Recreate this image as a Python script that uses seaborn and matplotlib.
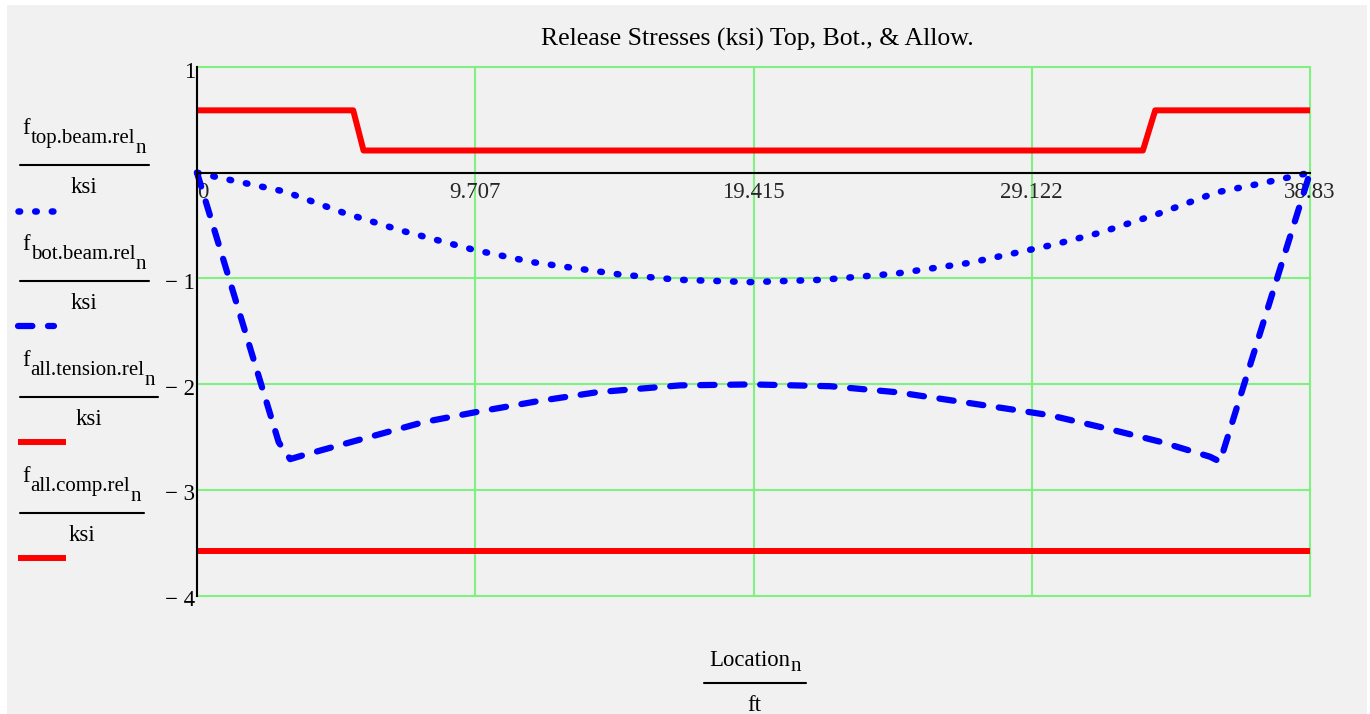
import numpy as np
import matplotlib
import matplotlib.pyplot as plt
from matplotlib.lines import Line2D
from matplotlib.patches import Rectangle
import seaborn as sns

# values (ft, ksi)
loc_top = [0, 1.04, 3.07, 5.10, 7.15, 9.66, 11.72, 14.75, 16.8, 19.33,
           21.83, 24.4, 26.95, 28.93, 29.88, 31.5, 33.53, 35.57, 37.08, 38.83]
f_top = [0, -0.062, -0.179, -0.378, -0.549, -0.730, -0.847, -0.963, -1.013, -1.035,
         -1.013, -0.954, -0.853, -0.737, -0.681, -0.568, -0.389, -0.186, -0.104, 0]

loc_bot = [0, 2.85, 3.25, 3.72, 5.35, 7.9, 9.71, 11.86, 13.95, 16.86, 19.36,
           22.09, 24.42, 26.74, 28.83, 29.76, 31.74, 33.6, 35.34, 35.69, 38.83]
f_bot = [0, -2.55, -2.71, -2.672, -2.55, -2.36, -2.266, -2.163, -2.077, -2.012, -2.003,
         -2.02, -2.077, -2.171, -2.256, -2.295, -2.42, -2.545, -2.687, -2.734, 0]

loc_ten = [0, 5.45, 5.81, 33.0, 33.43, 38.83]
f_ten = [0.59, 0.59, 0.21, 0.21, 0.59, 0.59]

loc_comp = [0, 38.83]
f_comp = [-3.575, -3.575]

xticks = [0, 9.707, 19.415, 29.122, 38.83]
xtick_labels = ['0', '9.707', '19.415', '29.122', '38.83']
yticks = [-4, -3, -2, -1, 0, 1]
ytick_labels = {1: '1', -1: '\u2212 1', -2: '\u2212 2', -3: '\u2212 3', -4: '\u2212 4'}

legend_names = ['top.beam.rel', 'bot.beam.rel', 'all.tension.rel', 'all.comp.rel']

W, H = 1370, 714
BG = '#f1f1f1'
GRID = '#80f080'

sns.set_theme(style='white')
plt.rcParams['font.family'] = ['Liberation Serif', 'DejaVu Serif']
plt.rcParams['text.color'] = 'black'


def px(x):
    return x / W


def py(y):
    return 1 - y / H


fig = plt.figure(figsize=(W / 100, H / 100), dpi=100, facecolor='white')
fig.add_artist(Rectangle((px(7), 0), px(1367) - px(7), py(5), transform=fig.transFigure,
                         facecolor=BG, edgecolor='none', zorder=-10))

ax = fig.add_axes([px(197), py(595.5), px(1310) - px(197), py(67) - py(595.5)])
ax.set_facecolor(BG)

dotted = dict(color='#0000ff', lw=4.7, linestyle=(0, (0.25, 2.3)), dash_capstyle='round')
dashed = dict(color='#0000ff', lw=4.5, linestyle=(0, (2.3, 2.5)), dash_capstyle='round')
solid = dict(color='#ff0000', lw=4.3, linestyle='-', solid_capstyle='butt')

sns.lineplot(x=loc_ten, y=f_ten, ax=ax, estimator=None, sort=False, clip_on=False, **solid)
sns.lineplot(x=loc_top, y=f_top, ax=ax, estimator=None, sort=False, clip_on=False, **dotted)
sns.lineplot(x=loc_bot, y=f_bot, ax=ax, estimator=None, sort=False, clip_on=False, **dashed)
sns.lineplot(x=loc_comp, y=f_comp, ax=ax, estimator=None, sort=False, clip_on=False, **solid)

ax.set_xlim(0, 38.83)
ax.set_ylim(-4, 1)
ax.set_xlabel('')
ax.set_ylabel('')

for side in ['top', 'right']:
    ax.spines[side].set_visible(False)
for side in ['left', 'bottom']:
    ax.spines[side].set_color('black')
    ax.spines[side].set_linewidth(1.5)
ax.spines['bottom'].set_position(('data', 0))

ax.set_xticks(xticks, labels=xtick_labels)
ax.set_yticks(yticks, labels=[''] * len(yticks))
ax.tick_params(direction='inout', length=9, width=1.5, color='black',
               labelsize=16.5, pad=2)
ax.get_xticklabels()[0].set_ha('left')

ax.grid(True, color=GRID, lw=1.5)
ax.set_axisbelow(True)
for gl in ax.get_xgridlines() + ax.get_ygridlines():
    gl.set_clip_on(False)

for val, lab in ytick_labels.items():
    ax.annotate(lab, xy=(0, val), xycoords='data', xytext=(-2, -5),
                textcoords='offset pixels', ha='right', va='center', fontsize=16.5)

# title
fig.text(px(757), py(46), 'Release Stresses (ksi) Top, Bot., & Allow.',
         fontsize=18.5, ha='center', va='baseline')

renderer = fig.canvas.get_renderer()


def name_text(x0, base, parts):
    x = x0
    for txt, size, dy, gap in parts:
        x += gap
        t = fig.text(px(x), py(base + dy), txt, fontsize=size, ha='left', va='baseline')
        x += t.get_window_extent(renderer).width
    return x


# x axis label as a fraction
x_end = name_text(709, 665.7, [('Location', 16.4, 0, 0), ('n', 15, 5.5, 1)])
fig.add_artist(Line2D([px(704), px(x_end + 4)], [py(682.7), py(682.7)], color='black',
                      lw=1.5, transform=fig.transFigure))
fig.text(px((704 + x_end + 4) / 2), py(711), 'ft', fontsize=16.4, ha='center', va='baseline')

# left legend with the fraction names
sample_styles = [dotted, dashed, solid, solid]
sample_ends = [65, 57, 69, 69]
for i, nm in enumerate(legend_names):
    ly = 165 + 115.9 * i
    end = name_text(22, ly, [('f', 16.4, -30.7, 0), (nm, 15, -21.7, 1), ('n', 15, -11.7, 0)])
    end += 3
    fig.add_artist(Line2D([px(20), px(end)], [py(ly), py(ly)], color='black', lw=1.5,
                          transform=fig.transFigure))
    fig.text(px((20 + end) / 2), py(ly + 28.3), 'ksi', fontsize=16.4, ha='center',
             va='baseline')
    st = dict(sample_styles[i])
    fig.add_artist(Line2D([px(18), px(sample_ends[i] - 3)], [py(ly + 45.6), py(ly + 45.6)],
                          transform=fig.transFigure, **st))

fig.savefig('out.png', dpi=100, facecolor='white')
